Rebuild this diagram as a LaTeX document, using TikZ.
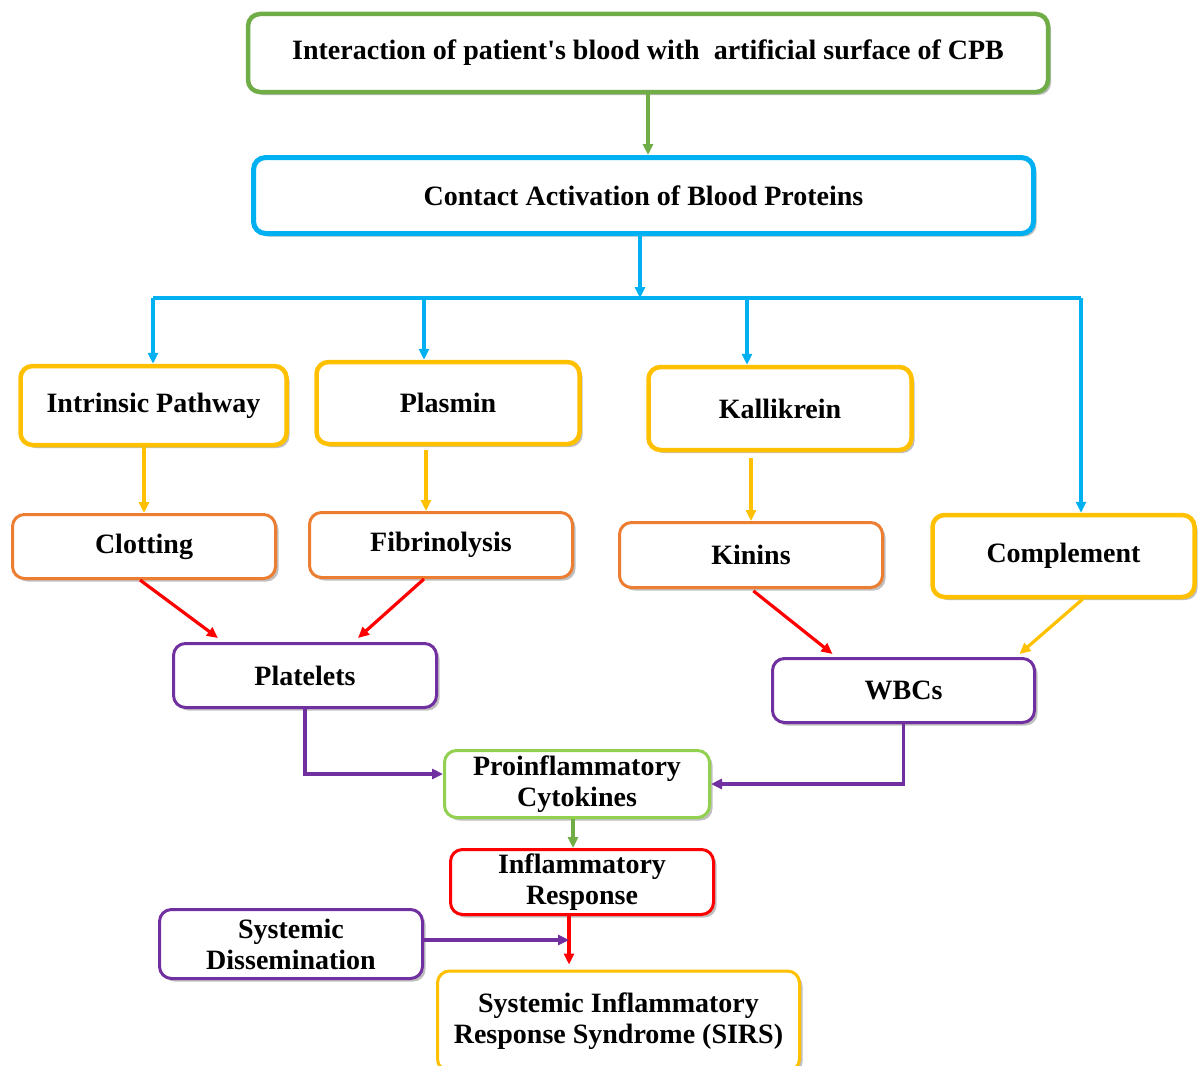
\documentclass[tikz,border=0pt]{standalone}
\usepackage{fontspec}
\setmainfont{Liberation Serif}[Ligatures=TeXOff]
\usetikzlibrary{arrows.meta,shadows,calc}
\definecolor{cgreen}{HTML}{70AD47}
\definecolor{ccyan}{HTML}{00B0F0}
\definecolor{cyellow}{HTML}{FFC000}
\definecolor{corange}{HTML}{ED7D31}
\definecolor{cpurple}{HTML}{7030A0}
\definecolor{clgreen}{HTML}{92D050}
\definecolor{cred}{HTML}{FF0000}
\begin{document}
\begin{tikzpicture}[x=1pt,y=-1pt,
  box/.style={draw, fill=white, rounded corners=12pt, inner sep=0pt, align=center,
    font=\fontsize{28}{31}\selectfont\bfseries,
    drop shadow={shadow xshift=3pt, shadow yshift=-3pt, opacity=0.5, fill=gray}},
  thick box/.style={box, line width=4.5pt},
  thin box/.style={box, line width=3pt},
  conn/.style={line width=3.2pt, -{Triangle[length=11pt,width=10pt]}},
  plain/.style={line width=3.2pt}
]
\useasboundingbox (0,0) rectangle (1198,1065);

% nodes
\node[thick box, draw=cgreen, minimum width=800, minimum height=78] (top) at (648,53)
  {Interaction of patient's blood with~~artificial surface of CPB};
\node[thick box, draw=ccyan, line width=5pt, minimum width=780, minimum height=76] (contact) at (643.5,195.5)
  {Contact Activation of Blood Proteins};
\node[thick box, draw=cyellow, minimum width=266, minimum height=79] (intr) at (153.5,405.5) {Intrinsic Pathway};
\node[thick box, draw=cyellow, minimum width=263, minimum height=82] (plasmin) at (448,403) {Plasmin};
\node[thick box, draw=cyellow, minimum width=263, minimum height=83] (kall) at (780,408.5) {Kallikrein};
\node[thick box, draw=cyellow, minimum width=262, minimum height=82] (compl) at (1063.5,556) {Complement};
\node[thin box, draw=corange, minimum width=263, minimum height=64] (clot) at (144,546.5) {Clotting};
\node[thin box, draw=corange, minimum width=263, minimum height=65] (fibr) at (441,545) {Fibrinolysis};
\node[thin box, draw=corange, minimum width=263, minimum height=65] (kinins) at (751,555) {Kinins};
\node[thin box, draw=cpurple, minimum width=263, minimum height=64] (plat) at (305,675.5) {Platelets};
\node[thin box, draw=cpurple, minimum width=262, minimum height=64] (wbc) at (903.5,690.5) {WBCs};
\node[thin box, draw=clgreen, minimum width=265, minimum height=67] (proinf) at (577,784) {Proinflammatory\\Cytokines};
\node[thin box, draw=cred, minimum width=263, minimum height=65] (infl) at (582,882) {Inflammatory\\Response};
\node[thin box, draw=cpurple, minimum width=263, minimum height=69] (sysd) at (291,944) {Systemic\\Dissemination};
\node[thin box, draw=cyellow, minimum width=362, minimum height=100] (sirs) at (618.5,1021)
  {Systemic Inflammatory\\Response Syndrome (SIRS)};

% top -> contact
\draw[conn, cgreen] (top.south) -- (top.south |- contact.north);

% contact -> bus
\coordinate (bus) at (640,298);
\coordinate (bL) at (153,298);
\coordinate (b2) at (424,298);
\coordinate (b3) at (747,298);
\coordinate (bR) at (1081,298);
\draw[conn, ccyan] (contact.south -| bus) -- (bus);
\draw[plain, ccyan] (bL) -- (bR);
\draw[conn, ccyan] (bL) -- (bL |- intr.north);
\draw[conn, ccyan] (b2) -- (b2 |- plasmin.north);
\draw[conn, ccyan] (b3) -- (b3 |- kall.north);
\draw[conn, ccyan] (bR) -- (bR |- compl.north);

% yellow
\draw[conn, cyellow] (clot.north |- intr.south) -- (clot.north);
\draw[conn, cyellow, shorten <=4pt] ([xshift=-15pt]fibr.north |- plasmin.south) -- ([xshift=-15pt]fibr.north);
\draw[conn, cyellow, shorten <=6pt] (kinins.north |- kall.south) -- (kinins.north);

% red
\draw[conn, cred] ([xshift=-4pt]clot.south) -- ([xshift=-87pt,yshift=4pt]plat.north);
\draw[conn, cred] ([xshift=-17pt]fibr.south) -- ([xshift=53pt,yshift=4pt]plat.north);
\draw[conn, cred, shorten <=3pt] (kinins.south) -- ([xshift=-71pt,yshift=3pt]wbc.north);
\draw[conn, cyellow] ([xshift=19pt]compl.south) -- ([xshift=116pt,yshift=3pt]wbc.north);

% purple to proinflammatory
\draw[conn, cpurple] (plat.south) |- ([yshift=10pt]proinf.west);
\draw[conn, cpurple] (wbc.south) |- (proinf.east);

% proinf -> infl
\draw[conn, cgreen] ([xshift=-4pt]proinf.south) -- ([xshift=-4pt]proinf.south |- infl.north);

% infl -> sirs
\coordinate (rl) at ([xshift=-13pt]infl.south);
\draw[conn, cred, shorten >=5pt] (rl) -- (rl |- sirs.north);
\draw[conn, cpurple] ([yshift=4pt]sysd.east) -- ([yshift=4pt]sysd.east -| rl);
\end{tikzpicture}
\end{document}
